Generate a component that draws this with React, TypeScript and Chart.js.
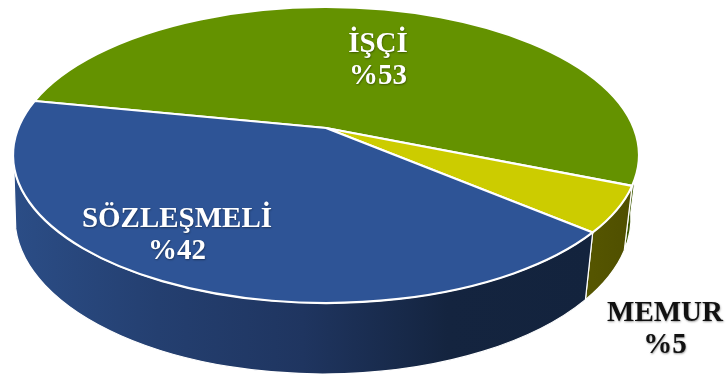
import React, { useEffect, useRef } from "react";
import { Chart, registerables } from "chart.js";

Chart.register(...registerables);

// Slices, in clockwise order from the back-left edge of the disc.
const categories = ["İŞÇİ", "MEMUR", "SÖZLEŞMELİ"];
const shares = [53, 5, 42];
const faceColors = ["#649200", "#cccc00", "#2e5496"];
const wallColors = [
  ["#3d5800", "#3d5800"],
  ["#555500", "#4f4f00"],
  ["#2b4d86", "#243f70", "#1f3560", "#14243f", "#13233d"],
];
const labelColors = ["#ffffff", "#111111", "#ffffff"];
const labelCentres = [
  [378, 52],
  [665, 321],
  [177, 227],
];

// Tilted-disc geometry: upper rim, lower rim, and how far the perspective
// pushes the disc's hub away from the middle of the rim ellipse.
const TOP = { cx: 326, cy: 155, rx: 313, ry: 148 };
const BOTTOM = { cx: 323, cy: 218, rx: 308, ry: 156 };
const HUB_SHIFT = 0.0918;
const HUB = { x: 326, y: 128 };
const WALL_FROM = (-2 * Math.PI) / 180;
const WALL_TO = (176 * Math.PI) / 180;

// Projects an angle on the flat disc to the parameter angle on the rim ellipse.
function project(theta: number) {
  const c = Math.cos(theta);
  const s = Math.sin(theta);
  const k = HUB_SHIFT;
  return Math.atan2(s - k, c) - Math.atan2(k * c, 1 - k * s);
}

function sweep(start: number, end: number) {
  const a = project(start);
  let b = project(end);
  while (b <= a) b += Math.PI * 2;
  return [a, b];
}

const discPlugin = {
  id: "tiltedDisc",
  beforeDatasetsDraw(chart: any) {
    const ctx: CanvasRenderingContext2D = chart.ctx;
    const arcs = chart.getDatasetMeta(0).data;
    const spans = arcs.map((arc: any) => sweep(arc.startAngle, arc.endAngle));

    ctx.save();
    ctx.lineJoin = "round";

    // Side wall
    spans.forEach(([a, b]: number[], i: number) => {
      [0, -Math.PI * 2, Math.PI * 2].forEach((off) => {
        const s = Math.max(a + off, WALL_FROM);
        const e = Math.min(b + off, WALL_TO);
        if (e <= s) return;
        const grad = ctx.createLinearGradient(
          TOP.cx + TOP.rx * Math.cos(e),
          0,
          TOP.cx + TOP.rx * Math.cos(s),
          0
        );
        wallColors[i].forEach((col, n) =>
          grad.addColorStop(n / (wallColors[i].length - 1), col)
        );
        ctx.beginPath();
        ctx.ellipse(TOP.cx, TOP.cy, TOP.rx, TOP.ry, 0, s, e);
        ctx.ellipse(BOTTOM.cx, BOTTOM.cy, BOTTOM.rx, BOTTOM.ry, 0, e, s, true);
        ctx.closePath();
        ctx.fillStyle = grad;
        ctx.fill();
        ctx.strokeStyle = "#ffffff";
        ctx.lineWidth = 1.2;
        ctx.stroke();
      });
    });

    // Upper face
    spans.forEach(([a, b]: number[], i: number) => {
      ctx.beginPath();
      ctx.moveTo(HUB.x, HUB.y);
      ctx.ellipse(TOP.cx, TOP.cy, TOP.rx, TOP.ry, 0, a, b);
      ctx.closePath();
      ctx.fillStyle = faceColors[i];
      ctx.fill();
      ctx.strokeStyle = "#ffffff";
      ctx.lineWidth = 2.2;
      ctx.stroke();
    });

    // Category and percentage captions
    ctx.font = 'bold 29px "Liberation Serif"';
    ctx.textAlign = "center";
    ctx.textBaseline = "alphabetic";
    ctx.shadowColor = "rgba(0,0,0,0.4)";
    ctx.shadowBlur = 2;
    ctx.shadowOffsetX = 0.5;
    ctx.shadowOffsetY = 0.5;
    categories.forEach((name, i) => {
      const [x, y] = labelCentres[i];
      ctx.fillStyle = labelColors[i];
      ctx.fillText(name, x, y);
      ctx.fillText(`%${shares[i]}`, x, y + 32);
    });
    ctx.restore();
    return false;
  },
};

export default function App() {
  const ref = useRef<HTMLCanvasElement>(null);

  useEffect(() => {
    const chart = new Chart(ref.current!, {
      type: "pie",
      data: {
        labels: categories,
        datasets: [{ data: shares, backgroundColor: faceColors, borderWidth: 0 }],
      },
      options: {
        responsive: false,
        animation: false,
        rotation: -78.7,
        events: [],
        plugins: { legend: { display: false }, tooltip: { enabled: false } },
      },
      plugins: [discPlugin],
    } as any);
    return () => chart.destroy();
  }, []);

  return (
    <canvas
      ref={ref}
      width={726}
      height={374}
      style={{ position: "fixed", left: 0, top: 0, display: "block", background: "#ffffff" }}
    />
  );
}
